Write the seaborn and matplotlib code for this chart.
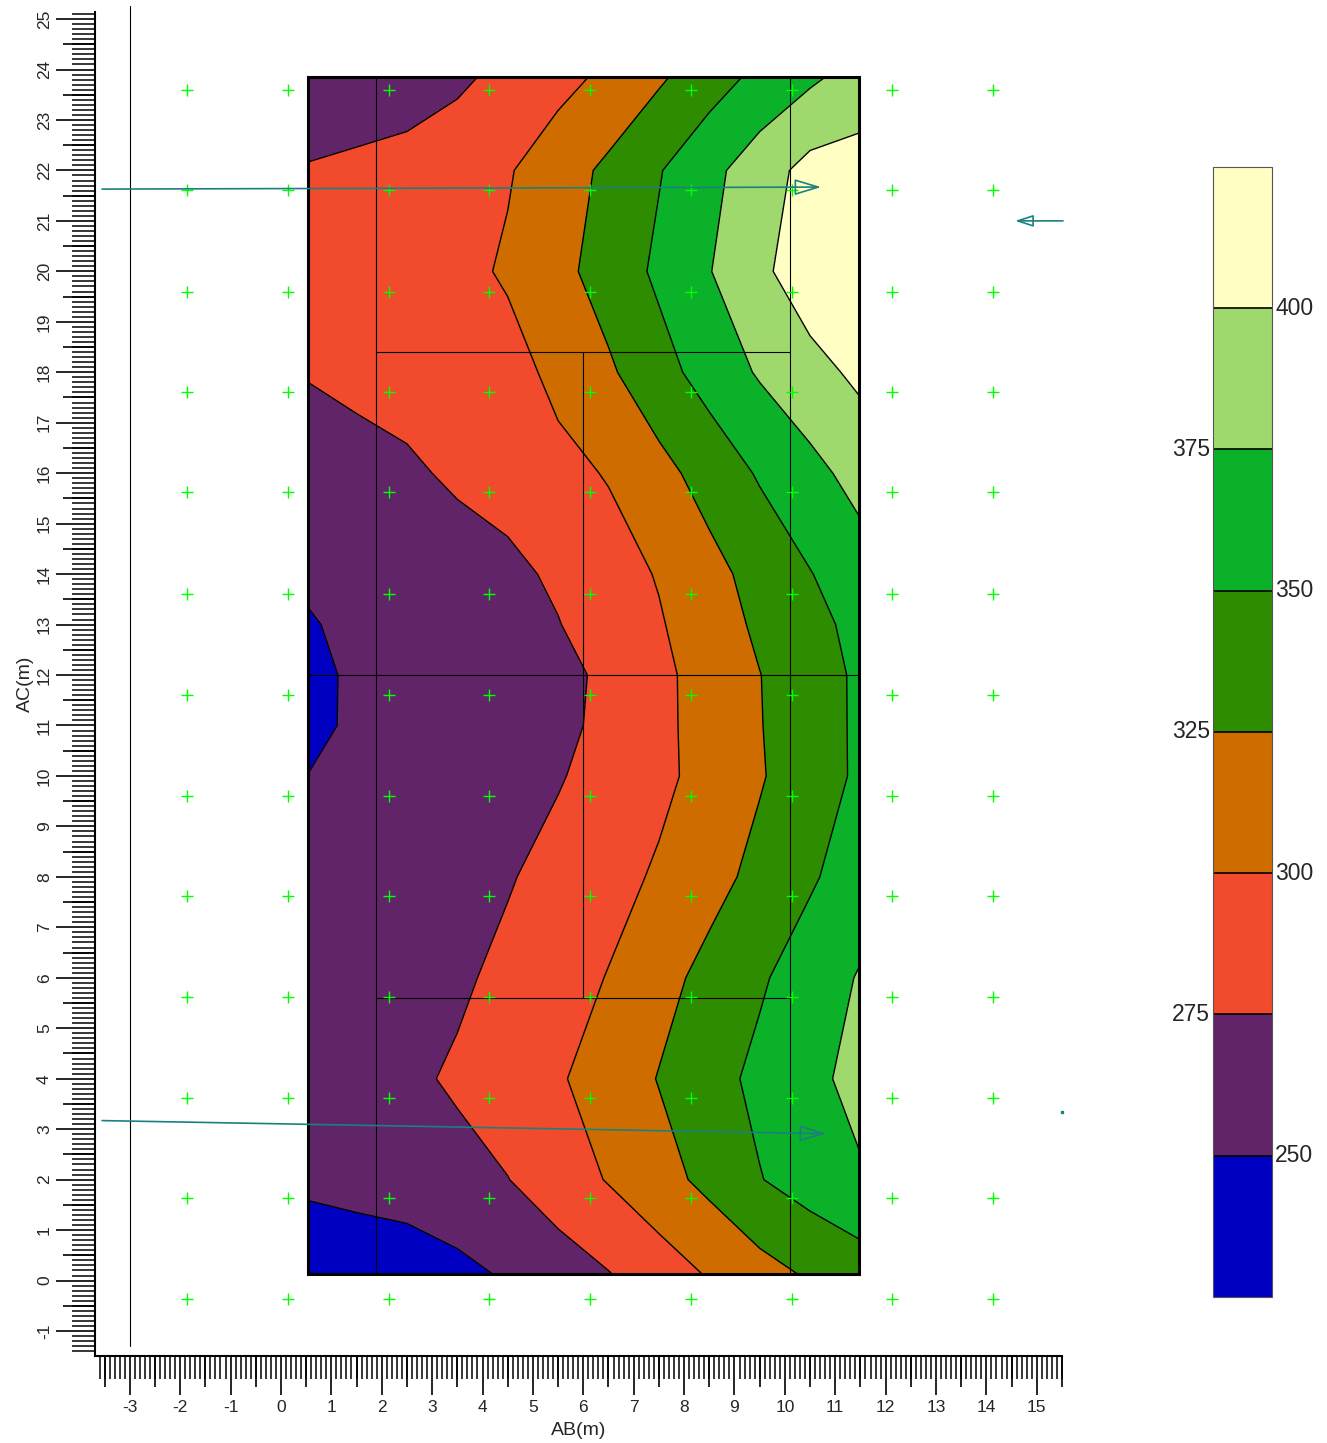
import numpy as np
import matplotlib
matplotlib.use("Agg")
import matplotlib.pyplot as plt
from matplotlib.ticker import MultipleLocator, NullLocator
from matplotlib.patches import Rectangle
import seaborn as sns

# grid nodes of the contoured block (m)
x_nodes = [0.54, 1.5, 2.5, 3.5, 4.5, 5.5, 6.5, 7.5, 8.5, 9.5, 10.5, 11.47]
y_nodes = [0.13, 2, 4, 6, 8, 10, 11, 12, 13, 14, 16, 18, 20, 22, 23.85]

# values, one row per y node (bottom -> top)
z_grid = [
    [243, 236, 235, 243, 253, 263.5, 274, 288, 302, 316, 328, 337],
    [252, 257.5, 263, 269, 274.5, 287.5, 301.5, 316, 331.5, 349, 361, 372],
    [262, 266.5, 271.5, 277.5, 287.5, 297.5, 311, 326, 341.5, 355.5, 369, 382],
    [256, 261, 266.5, 272, 279.5, 290, 301, 317, 332, 347, 362, 376.5],
    [255, 259.5, 264, 268.5, 273.5, 281.5, 292, 303, 317, 331.5, 347, 362],
    [250.3, 254.5, 259, 264, 268.5, 273.5, 282.5, 294.5, 308, 323, 338.5, 353.5],
    [244, 254, 258.5, 263.5, 268, 271, 279, 294.5, 309, 324, 339, 353.5],
    [242, 255, 259.5, 263.5, 268, 272.5, 276.8, 294.5, 309.5, 324.5, 339.5, 353.5],
    [248, 255.5, 260, 264.5, 269, 274, 289, 298, 313, 329.3, 344.5, 355],
    [254, 258, 261.5, 265, 268.5, 279.5, 290.5, 301.5, 317.5, 333.5, 349, 364],
    [266, 268.5, 271.5, 278.5, 286, 293.5, 301.5, 317.5, 334.5, 352.5, 368, 383],
    [276, 279.5, 283.5, 287, 291, 306, 321.5, 341, 360, 377.5, 391.5, 405],
    [281, 284, 288, 293, 303, 318, 335.5, 354.5, 374, 394.5, 415, 420],
    [276, 278, 280, 288, 298, 313.5, 330, 348.5, 368, 388.5, 408, 410],
    [265, 266, 268, 271, 281, 292.5, 305, 321.5, 339, 356, 370.5, 385],
]

levels = [225, 250, 275, 300, 325, 350, 375, 400, 425]
band_colors = ['#0000C2', '#622468', '#F24A2C', '#CF6C00', '#2E8C00',
               '#0CB12A', '#9FD96E', '#FFFFC4']

# measurement points (green crosses)
pts_x = [-1.86, 0.14, 2.14, 4.13, 6.13, 8.14, 10.14, 12.13, 14.13]
pts_y = [-0.37, 1.63, 3.62, 5.62, 7.63, 9.6, 11.6, 13.6, 15.62, 17.6, 19.6, 21.61, 23.59]

# thin section lines drawn over the map
v_lines = [(1.89, 0.13, 23.85), (10.1, 0.13, 23.85), (5.99, 5.6, 18.4)]
h_lines = [(18.4, 1.89, 10.1), (12.0, 0.54, 11.47), (5.6, 1.89, 10.1)]

# teal arrows (start, tip)
arrow_start = [(-3.55, 21.63), (-3.55, 3.17), (15.52, 21.0)]
arrow_tip = [(10.72, 21.67), (10.82, 2.91), (14.57, 21.0)]

sns.set_style('ticks')
plt.rcParams['font.family'] = ['Liberation Sans', 'DejaVu Sans']
plt.rcParams['axes.unicode_minus'] = False

fig = plt.figure(figsize=(13.27, 14.43), dpi=100)
ax = fig.add_axes([0.0716, 0.0603, 0.7287, 0.9314])

X, Y = np.meshgrid(x_nodes, y_nodes)
Z = np.array(z_grid)
cf = ax.contourf(X, Y, Z, levels=levels, colors=band_colors, zorder=1)
ax.contour(X, Y, Z, levels=levels[1:-1], colors='black', linewidths=1.0, zorder=2)

for xv, y0, y1 in v_lines:
    ax.plot([xv, xv], [y0, y1], color='black', lw=0.8, zorder=3)
for yv, x0, x1 in h_lines:
    ax.plot([x0, x1], [yv, yv], color='black', lw=0.8, zorder=3)

ax.add_patch(Rectangle((x_nodes[0], y_nodes[0]), x_nodes[-1] - x_nodes[0],
                       y_nodes[-1] - y_nodes[0], fill=False, ec='black', lw=2.2, zorder=5))

px, py = np.meshgrid(pts_x, pts_y)
sns.scatterplot(x=px.ravel(), y=py.ravel(), marker='+', color='#00FF00', s=80,
                linewidth=1.0, ax=ax, zorder=4, legend=False)

# reference line at x = -3
ax.plot([-3, -3], [-1.3, 25.26], color='black', lw=0.8, clip_on=False, zorder=3)

teal = '#1B8080'
heads = ['-|>,head_length=1.65,head_width=0.5', '-|>,head_length=1.65,head_width=0.5',
         '-|>,head_length=1.1,head_width=0.36']
for (sx, sy), (tx, ty), hs in zip(arrow_start, arrow_tip, heads):
    ax.annotate('', xy=(tx, ty), xytext=(sx, sy), annotation_clip=False,
                arrowprops=dict(arrowstyle=hs, ec=teal, fc='none', lw=1.2,
                                shrinkA=0, shrinkB=0), zorder=6)
ax.plot([15.5], [3.34], 's', ms=1.5, color=teal, clip_on=False)

ax.set_xlim(-3.69, 15.5)
ax.set_ylim(-1.495, 25.14)
for side in ['top', 'right']:
    ax.spines[side].set_visible(False)
for side in ['left', 'bottom']:
    ax.spines[side].set_linewidth(1.5)
    ax.spines[side].set_color('black')

ax.xaxis.set_major_locator(MultipleLocator(1))
ax.yaxis.set_major_locator(MultipleLocator(1))
ax.xaxis.set_minor_locator(MultipleLocator(0.1))
ax.yaxis.set_minor_locator(MultipleLocator(0.1))
ax.tick_params(which='major', length=28, width=1.2, color='black', direction='out',
               labelsize=12.5, left=True, bottom=True, top=False, right=False)
ax.tick_params(which='minor', length=16.5, width=1.1, color='black', direction='out',
               left=True, bottom=True, top=False, right=False)
ax.tick_params(axis='y', labelrotation=90, pad=3)
ax.tick_params(axis='x', pad=4)
for lab in ax.get_yticklabels():
    lab.set_va('center')

# half-metre ticks
half_x = [v + 0.5 for v in range(-4, 16)]
half_y = [v + 0.5 for v in range(-2, 25)]
sx = ax.secondary_xaxis('bottom')
sx.set_xticks(half_x)
sx.xaxis.set_minor_locator(NullLocator())
sx.tick_params(length=22.5, width=1.2, color='black', labelbottom=False)
sx.spines['bottom'].set_visible(False)
sy = ax.secondary_yaxis('left')
sy.set_yticks(half_y)
sy.yaxis.set_minor_locator(NullLocator())
sy.tick_params(length=23, width=1.2, color='black', labelleft=False)
sy.spines['left'].set_visible(False)

ax.set_xlabel('AB(m)', fontsize=14, labelpad=5)
ax.set_ylabel('AC(m)', fontsize=14, labelpad=2)

# colour bar
cax = fig.add_axes([0.9141, 0.1012, 0.0445, 0.7831])
cbar = fig.colorbar(cf, cax=cax, drawedges=True)
cbar.set_ticks([])
cbar.outline.set_linewidth(0.8)
cbar.outline.set_edgecolor('#555555')
cbar.dividers.set_color('black')
cbar.dividers.set_linewidth(1.2)
tr = cax.get_yaxis_transform()
for v in [250, 300, 350, 400]:
    cax.text(1.05, v, str(v), transform=tr, ha='left', va='center', fontsize=16.5)
for v in [275, 325, 375]:
    cax.text(-0.05, v, str(v), transform=tr, ha='right', va='center', fontsize=16.5)

fig.savefig('out.png', dpi=100)
